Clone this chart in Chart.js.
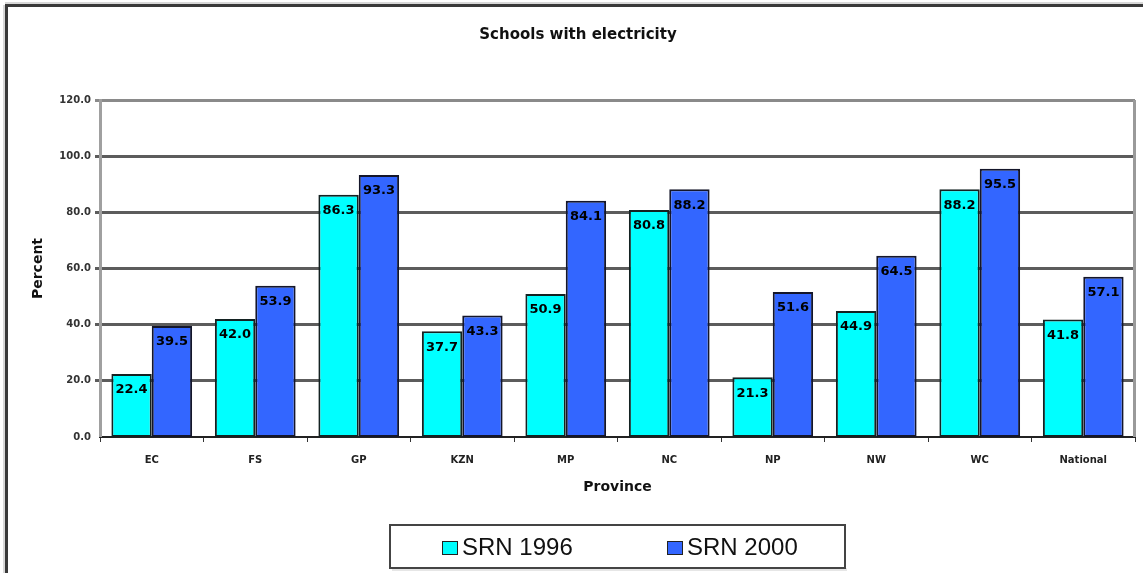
<!DOCTYPE html>
<html>
<head>
<meta charset="utf-8">
<title>Schools with electricity</title>
<script src="https://cdn.jsdelivr.net/npm/chart.js@4.4.1/dist/chart.umd.min.js"></script>
<style>
    html, body { margin: 0; padding: 0; background: #fff; }
    #wrap { width: 1143px; height: 573px; position: relative; }
</style>
</head>
<body>
<div id="wrap"><canvas id="chart" width="1143" height="573"></canvas></div>
<script>
const provinces = ['EC', 'FS', 'GP', 'KZN', 'MP', 'NC', 'NP', 'NW', 'WC', 'National'];
const srn1996 = [22.4, 42.0, 86.3, 37.7, 50.9, 80.8, 21.3, 44.9, 88.2, 41.8];
const srn2000 = [39.5, 53.9, 93.3, 43.3, 84.1, 88.2, 51.6, 64.5, 95.5, 57.1];
const yTicks = [0, 20, 40, 60, 80, 100, 120];

const chartTitle = 'Schools with electricity';

// frame, title, right border of plot, bar labels and the boxed legend
const decorPlugin = {
    id: 'decor',
    beforeDraw(chart) {
        const ctx = chart.ctx;
        ctx.save();
        ctx.fillStyle = '#fff';
        ctx.fillRect(0, 0, chart.width, chart.height);
        // outer frame (top and left only)
        ctx.fillStyle = '#d8d8d8';
        ctx.fillRect(5, 2, chart.width, 2);
        ctx.fillRect(3, 5, 2, chart.height);
        ctx.fillStyle = '#3a3a3a';
        ctx.fillRect(5, 4, chart.width, 3);
        ctx.fillRect(5, 5, 3, chart.height);
        ctx.restore();
    },
    afterDatasetsDraw(chart) {
        const ctx = chart.ctx;
        const area = chart.chartArea;
        ctx.save();
        // right border of the plot area
        ctx.fillStyle = '#9a9a9a';
        ctx.fillRect(area.right - 2, area.top, 3, area.bottom - area.top);

        // value labels inside the top of every bar
        ctx.font = 'bold 13px "DejaVu Sans"';
        ctx.fillStyle = '#000';
        ctx.textAlign = 'center';
        ctx.textBaseline = 'middle';
        chart.data.datasets.forEach((ds, i) => {
            chart.getDatasetMeta(i).data.forEach((bar, j) => {
                ctx.fillText(ds.data[j].toFixed(1), bar.x, bar.y + 16);
            });
        });

        // title
        ctx.font = 'bold 15px "DejaVu Sans"';
        ctx.fillStyle = '#111';
        ctx.fillText(chartTitle, 578, 35);

        // legend box
        const lx = 390, ly = 525, lw = 455, lh = 43;
        ctx.fillStyle = '#e6e6e6';
        ctx.fillRect(lx + 2, ly + lh, lw, 3);
        ctx.fillStyle = '#fff';
        ctx.fillRect(lx, ly, lw, lh);
        ctx.strokeStyle = '#444';
        ctx.lineWidth = 2;
        ctx.strokeRect(lx, ly, lw, lh);

        const itemX = [442, 667];
        ctx.font = '24px "Liberation Sans"';
        ctx.textAlign = 'left';
        chart.data.datasets.forEach((ds, i) => {
            const x = itemX[i];
            ctx.fillStyle = ds.backgroundColor;
            ctx.fillRect(x, 541, 16, 14);
            ctx.strokeStyle = '#222';
            ctx.lineWidth = 1;
            ctx.strokeRect(x + 0.5, 541.5, 15, 13);
            ctx.fillStyle = '#111';
            ctx.fillText(ds.label, x + 20, 548);
        });
        ctx.restore();
    }
};

const ctx = document.getElementById('chart').getContext('2d');
new Chart(ctx, {
    type: 'bar',
    data: {
        labels: provinces,
        datasets: [
            {
                label: 'SRN 1996',
                data: srn1996,
                backgroundColor: '#00ffff',
                borderColor: '#142222',
                borderWidth: 2,
                borderSkipped: false,
            },
            {
                label: 'SRN 2000',
                data: srn2000,
                backgroundColor: '#3366ff',
                borderColor: '#14162a',
                borderWidth: 2,
                borderSkipped: false,
            },
        ],
    },
    options: {
        responsive: false,
        animation: false,
        layout: { padding: { top: 100, right: 8, left: 0, bottom: 0 } },
        categoryPercentage: 0.78,
        barPercentage: 1.0,
        plugins: {
            legend: { display: false },
            title: { display: false },
            tooltip: { enabled: false },
        },
        scales: {
            x: {
                afterFit: (scale) => { scale.height = 136; },
                grid: {
                    drawOnChartArea: false,
                    drawTicks: true,
                    tickLength: 5,
                    color: '#333',
                    lineWidth: 1,
                },
                border: { color: '#222', width: 2 },
                ticks: {
                    padding: 12,
                    color: '#222',
                    font: { family: 'DejaVu Sans', size: 10, weight: 'bold' },
                },
                title: {
                    display: true,
                    text: 'Province',
                    color: '#111',
                    font: { family: 'DejaVu Sans', size: 14, weight: 'bold' },
                    padding: { bottom: 77 },
                },
            },
            y: {
                min: 0,
                max: 120,
                afterFit: (scale) => { scale.width = 100; },
                afterBuildTicks: (scale) => {
                    scale.ticks = yTicks.map(v => ({ value: v }));
                },
                grid: {
                    tickLength: 5,
                    color: (c) => c.tick && c.tick.value === 120 ? '#8a8a8a' : '#5c5c5c',
                    lineWidth: (c) => c.tick && c.tick.value === 0 ? 0 : 3,
                },
                border: { color: '#a0a0a0', width: 3 },
                ticks: {
                    padding: 4,
                    color: '#333',
                    font: { family: 'DejaVu Sans', size: 10, weight: 'bold' },
                    callback: (v) => Number(v).toFixed(1),
                },
                title: {
                    display: true,
                    text: 'Percent',
                    color: '#111',
                    font: { family: 'DejaVu Sans', size: 14, weight: 'bold' },
                    padding: { top: 30 },
                },
            },
        },
    },
    plugins: [decorPlugin],
});
</script>
</body>
</html>
